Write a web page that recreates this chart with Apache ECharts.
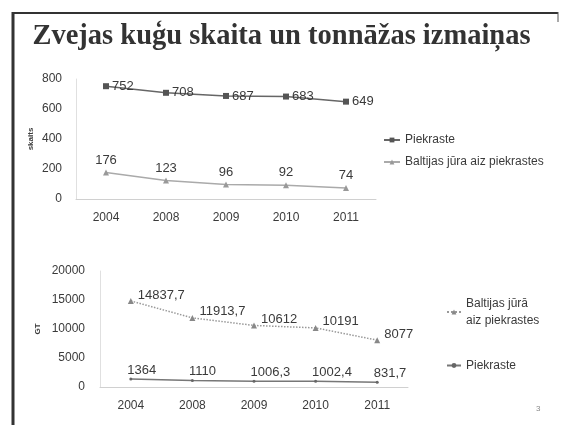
<!DOCTYPE html>
<html>
<head>
<meta charset="utf-8">
<script src="https://cdn.jsdelivr.net/npm/echarts@6/dist/echarts.min.js"></script>
<style>
html, body { margin: 0; padding: 0; background: #fff; }
#main { width: 563px; height: 425px; }
</style>
</head>
<body>
<div id="main"></div>
<script>
// data
var years = ['2004', '2008', '2009', '2010', '2011'];
var skaitsPiekraste = [752, 708, 687, 683, 649];
var skaitsBaltijas = [176, 123, 96, 92, 74];
var gtBaltijas = [14837.7, 11913.7, 10612, 10191, 8077];
var gtPiekraste = [1364, 1110, 1006.3, 1002.4, 831.7];

var txt = '#3a3a3a';
var fnt = 'Liberation Sans';

var dom = document.getElementById('main');
var myChart = echarts.init(dom);

function comma(p) {
    return String(p.value).replace('.', ',');
}

option = {
    animation: false,
    backgroundColor: '#fff',
    textStyle: { fontFamily: fnt, color: txt },
    title: {
        text: 'Zvejas kuģu skaita un tonnāžas izmaiņas',
        left: 'center',
        top: 17,
        textStyle: {
            fontFamily: 'Liberation Serif',
            fontWeight: 'bold',
            fontSize: 28.5,
            color: '#333'
        }
    },
    graphic: [
        { type: 'line', shape: { x1: 13, y1: 13, x2: 558, y2: 13 }, style: { stroke: '#333', lineWidth: 2 } },
        { type: 'line', shape: { x1: 13, y1: 12, x2: 13, y2: 425 }, style: { stroke: '#333', lineWidth: 3 } },
        { type: 'line', shape: { x1: 558, y1: 12, x2: 558, y2: 22 }, style: { stroke: '#555', lineWidth: 1 } },
        { type: 'text', left: 536, top: 405, style: { text: '3', fontSize: 8, fill: '#888', fontFamily: fnt } }
    ],
    legend: [
        {
            orient: 'vertical',
            left: 378,
            top: 129,
            itemGap: 10,
            itemWidth: 16,
            itemHeight: 6,
            textStyle: { fontSize: 12, color: txt, fontFamily: fnt },
            data: ['Piekraste', 'Baltijas jūra aiz piekrastes']
        },
        {
            orient: 'vertical',
            left: 441,
            top: 290,
            itemGap: 28,
            itemWidth: 14,
            itemHeight: 6,
            textStyle: { fontSize: 12, color: txt, fontFamily: fnt, lineHeight: 17 },
            data: ['Baltijas jūrā\naiz piekrastes', 'Piekraste ']
        }
    ],
    grid: [
        { left: 76, top: 79, width: 300, height: 120 },
        { left: 100, top: 271, width: 308, height: 116 }
    ],
    xAxis: [
        {
            gridIndex: 0,
            type: 'category',
            data: years,
            axisLine: { lineStyle: { color: '#d0d0d0' } },
            axisTick: { show: false },
            axisLabel: { fontSize: 12, color: txt, margin: 13 }
        },
        {
            gridIndex: 1,
            type: 'category',
            data: years,
            axisLine: { lineStyle: { color: '#d0d0d0' } },
            axisTick: { show: false },
            axisLabel: { fontSize: 12, color: txt, margin: 13 }
        }
    ],
    yAxis: [
        {
            gridIndex: 0,
            type: 'value',
            min: 0,
            max: 800,
            interval: 200,
            name: 'skaits',
            nameLocation: 'middle',
            nameRotate: 90,
            nameGap: 41,
            nameMoveOverlap: false,
            nameTextStyle: { fontSize: 8, fontWeight: 'bold', color: txt },
            axisLine: { show: true, lineStyle: { color: '#e0e0e0' } },
            axisTick: { show: false },
            splitLine: { show: false },
            axisLabel: { fontSize: 12, color: txt, margin: 14 }
        },
        {
            gridIndex: 1,
            type: 'value',
            min: 0,
            max: 20000,
            interval: 5000,
            name: 'GT',
            nameLocation: 'middle',
            nameRotate: 90,
            nameGap: 58,
            nameMoveOverlap: false,
            nameTextStyle: { fontSize: 8, fontWeight: 'bold', color: txt },
            axisLine: { show: true, lineStyle: { color: '#e0e0e0' } },
            axisTick: { show: false },
            splitLine: { show: false },
            axisLabel: { fontSize: 12, color: txt, margin: 15, formatter: function (v) { return String(v); } }
        }
    ],
    series: [
        {
            name: 'Piekraste',
            type: 'line',
            xAxisIndex: 0,
            yAxisIndex: 0,
            data: skaitsPiekraste,
            symbol: 'rect',
            symbolSize: 6,
            color: '#555',
            lineStyle: { color: '#666', width: 1.5 },
            itemStyle: { color: '#555' },
            label: { show: true, position: 'right', distance: 3, fontSize: 13, color: txt }
        },
        {
            name: 'Baltijas jūra aiz piekrastes',
            type: 'line',
            xAxisIndex: 0,
            yAxisIndex: 0,
            data: skaitsBaltijas,
            symbol: 'triangle',
            symbolSize: 6,
            color: '#999',
            lineStyle: { color: '#aaa', width: 1.5 },
            itemStyle: { color: '#999' },
            label: { show: true, position: 'top', distance: 3, fontSize: 13, color: txt }
        },
        {
            name: 'Baltijas jūrā\naiz piekrastes',
            type: 'line',
            xAxisIndex: 1,
            yAxisIndex: 1,
            data: gtBaltijas,
            symbol: 'triangle',
            symbolSize: 6,
            color: '#888',
            lineStyle: { color: '#999', width: 1.5, type: 'dotted' },
            itemStyle: { color: '#888' },
            label: { show: true, position: 'right', distance: 4, offset: [0, -6], fontSize: 13, color: txt, formatter: comma }
        },
        {
            name: 'Piekraste ',
            type: 'line',
            xAxisIndex: 1,
            yAxisIndex: 1,
            data: gtPiekraste,
            symbol: 'circle',
            symbolSize: 3,
            color: '#666',
            lineStyle: { color: '#777', width: 1.5 },
            itemStyle: { color: '#666' },
            label: { show: true, position: 'right', distance: 2, offset: [-7, -9], fontSize: 13, color: txt, formatter: comma }
        }
    ]
};

if (option && typeof option === "object") {
    myChart.setOption(option, true);
}
</script>
</body>
</html>
